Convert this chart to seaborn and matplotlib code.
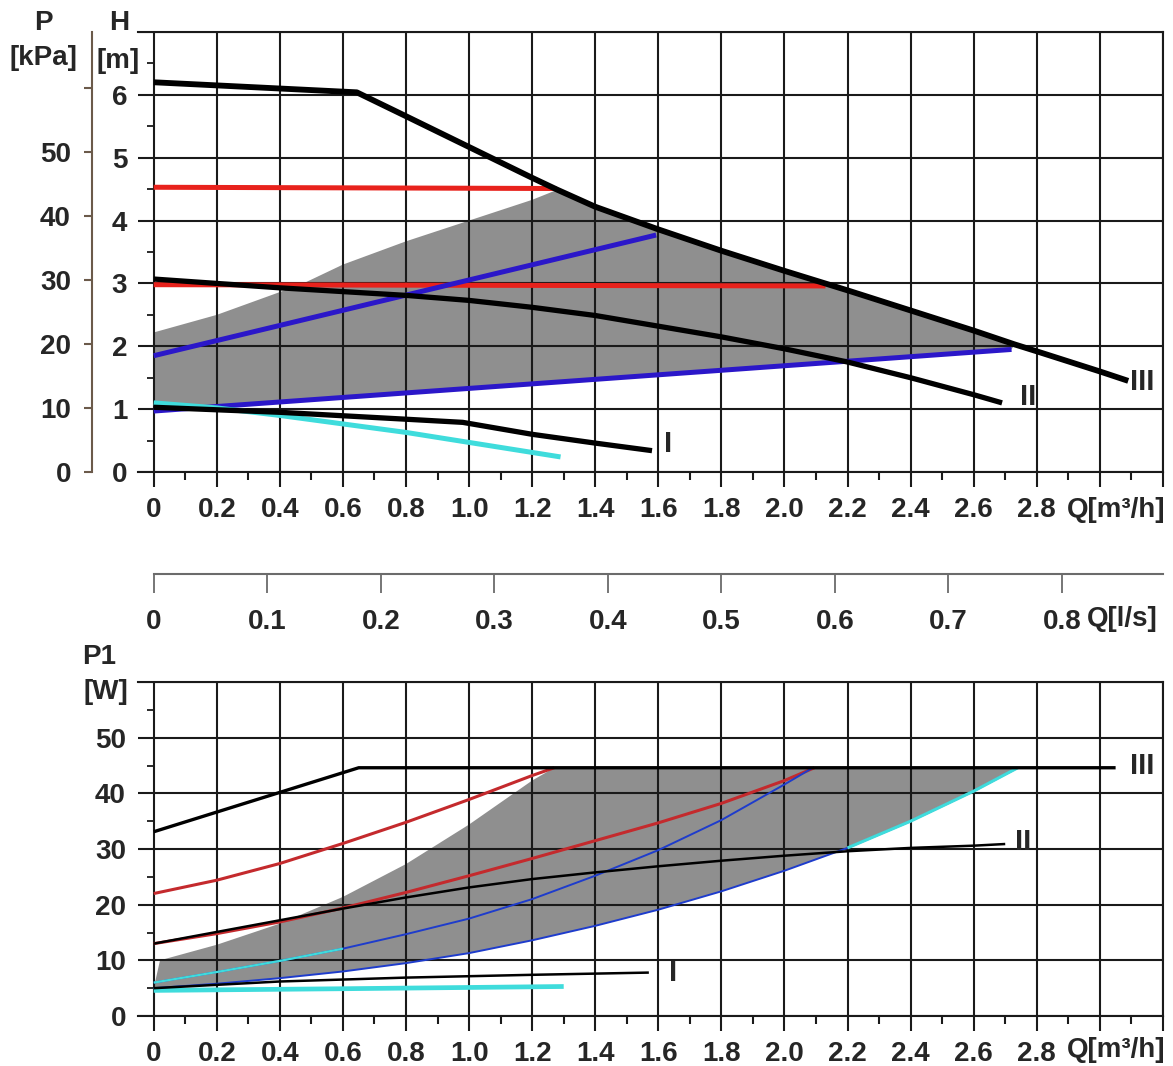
import numpy as np
import matplotlib
matplotlib.use('Agg')
import matplotlib.pyplot as plt
import seaborn as sns
from matplotlib.ticker import FixedLocator, FixedFormatter, MultipleLocator

# ---- data ----
# upper chart: head H [m] vs flow Q [m3/h]
q_iii_top = [0, 0.644, 0.8, 1.0, 1.2, 1.28, 1.4, 1.6, 1.8, 2.0, 2.2, 2.4, 2.6, 2.73, 2.8, 3.0, 3.09]
h_iii_top = [6.2, 6.04, 5.66, 5.17, 4.68, 4.49, 4.22, 3.86, 3.52, 3.20, 2.89, 2.57, 2.25, 2.03, 1.92, 1.60, 1.45]
q_ii_top = [0, 0.4, 0.8, 1.0, 1.2, 1.4, 1.6, 1.8, 2.0, 2.2, 2.4, 2.6, 2.69]
h_ii_top = [3.07, 2.93, 2.81, 2.73, 2.62, 2.49, 2.32, 2.15, 1.96, 1.75, 1.50, 1.23, 1.10]
q_i_top = [0, 0.4, 0.8, 0.98, 1.2, 1.4, 1.58]
h_i_top = [1.03, 0.95, 0.84, 0.79, 0.60, 0.46, 0.34]
q_cyan_top = [0, 0.2, 0.4, 0.8, 1.29]
h_cyan_top = [1.10, 1.02, 0.90, 0.63, 0.24]
q_red_hi_top = [0, 1.277]
h_red_hi_top = [4.53, 4.51]
q_red_lo_top = [0, 2.13]
h_red_lo_top = [2.98, 2.96]
q_blue_hi_top = [0, 1.593]
h_blue_hi_top = [1.85, 3.77]
q_blue_lo_top = [0, 2.72]
h_blue_lo_top = [0.97, 1.95]
q_zone_top = [0, 0.2, 0.47, 0.6, 0.8, 1.0, 1.2, 1.28]
h_zone_top = [2.22, 2.5, 2.99, 3.3, 3.67, 4.0, 4.33, 4.49]

# lower chart: input power P1 [W] vs flow Q [m3/h]
q_iii_bot = [0, 0.65, 3.05]
p_iii_bot = [33.1, 44.6, 44.6]
q_ii_bot = [0, 0.2, 0.4, 0.6, 0.8, 1.0, 1.2, 1.4, 1.6, 1.8, 2.0, 2.2, 2.4, 2.6, 2.7]
p_ii_bot = [13.0, 15.1, 17.2, 19.3, 21.3, 23.1, 24.6, 25.8, 26.9, 27.9, 28.8, 29.6, 30.2, 30.6, 30.9]
q_i_bot = [0, 0.4, 0.8, 1.2, 1.57]
p_i_bot = [5.0, 6.2, 6.9, 7.4, 7.8]
q_red_hi_bot = [0, 0.2, 0.4, 0.6, 0.8, 1.0, 1.2, 1.27]
p_red_hi_bot = [22.0, 24.4, 27.4, 31.0, 34.8, 38.9, 43.2, 44.6]
q_red_lo_bot = [0, 0.2, 0.4, 0.6, 0.8, 1.0, 1.2, 1.4, 1.6, 1.8, 2.0, 2.095]
p_red_lo_bot = [13.0, 14.8, 16.9, 19.4, 22.2, 25.2, 28.3, 31.5, 34.7, 38.2, 42.3, 44.6]
q_blue_hi_bot = [0, 0.2, 0.4, 0.6, 0.8, 1.0, 1.2, 1.4, 1.6, 1.8, 2.0, 2.09]
p_blue_hi_bot = [6.0, 7.9, 9.9, 12.1, 14.7, 17.5, 21.0, 25.2, 29.8, 35.2, 41.6, 44.6]
q_blue_lo_bot = [0, 0.2, 0.4, 0.6, 0.8, 1.0, 1.2, 1.4, 1.6, 1.8, 2.0, 2.2, 2.4, 2.6, 2.74]
p_blue_lo_bot = [5.0, 5.8, 6.8, 8.0, 9.5, 11.3, 13.6, 16.2, 19.1, 22.4, 26.1, 30.2, 35.0, 40.4, 44.6]
q_cyan_bot = [0, 0.6, 1.3]
p_cyan_bot = [4.6, 4.9, 5.3]
q_zone_bot = [0.02, 0.2, 0.4, 0.6, 0.8, 1.0, 1.2, 1.27]
p_zone_bot = [10.0, 12.8, 16.6, 21.4, 27.3, 34.4, 42.3, 44.6]

q_ticks = [0, 0.2, 0.4, 0.6, 0.8, 1.0, 1.2, 1.4, 1.6, 1.8, 2.0, 2.2, 2.4, 2.6, 2.8, 3.0, 3.2]
q_labels = ['0', '0.2', '0.4', '0.6', '0.8', '1.0', '1.2', '1.4', '1.6', '1.8', '2.0',
            '2.2', '2.4', '2.6', '2.8', '', '']
ls_ticks = [0, 0.1, 0.2, 0.3, 0.4, 0.5, 0.6, 0.7, 0.8]
ls_labels = ['0', '0.1', '0.2', '0.3', '0.4', '0.5', '0.6', '0.7', '0.8']
h_ticks = [0, 1, 2, 3, 4, 5, 6, 7]
h_labels = ['0', '1', '2', '3', '4', '5', '6', '']
p_ticks = [0, 10, 20, 30, 40, 50, 60]
p_labels = ['0', '10', '20', '30', '40', '50', '']
w_ticks = [0, 10, 20, 30, 40, 50, 60]
w_labels = ['0', '10', '20', '30', '40', '50', '']

sns.set_theme(style='white')
plt.rcParams['font.family'] = ['Liberation Sans', 'DejaVu Sans']
plt.rcParams['font.weight'] = 'bold'

GRID = '#1a1a1a'
GRAY = '#8f8f8f'
CYAN = '#3fdcdc'

fig = plt.figure(figsize=(11.73, 10.66), dpi=100)
ax1 = fig.add_axes([0.1176, 0.5572, 0.8738, 0.4128])
ax2 = fig.add_axes([0.1176, 0.0469, 0.8738, 0.3133])


def setup(ax, ymax, yticks, ylabels, yminor, ypad):
    ax.set_xlim(-0.05, 3.2)
    ax.set_ylim(0, ymax)
    ax.set_axisbelow('line')
    ax.xaxis.set_major_locator(FixedLocator(q_ticks))
    ax.xaxis.set_major_formatter(FixedFormatter(q_labels))
    ax.xaxis.set_minor_locator(MultipleLocator(0.1))
    ax.yaxis.set_major_locator(FixedLocator(yticks))
    ax.yaxis.set_major_formatter(FixedFormatter(ylabels))
    ax.yaxis.set_minor_locator(MultipleLocator(yminor))
    ax.grid(True, which='major', color=GRID, lw=1.5)
    ax.spines['left'].set_position(('data', 0))
    ax.spines['left'].set_visible(False)
    for s in ['top', 'right', 'bottom']:
        ax.spines[s].set_color(GRID)
        ax.spines[s].set_linewidth(1.5)
    ax.tick_params(axis='x', which='major', bottom=True, direction='out', length=11,
                   width=1.5, color=GRID, labelsize=20, pad=7)
    ax.tick_params(axis='x', which='minor', bottom=True, direction='out', length=6,
                   width=1.5, color=GRID)
    ax.tick_params(axis='y', which='major', left=True, length=0, labelsize=20, pad=ypad)
    ax.tick_params(axis='y', which='minor', left=True, direction='out', length=5,
                   width=1.3, color=GRID)
    ax.set_xlabel('')
    ax.set_ylabel('')


def curve(ax, q, v, color, lw, z=3):
    sns.lineplot(x=q, y=v, ax=ax, color=color, linewidth=lw, estimator=None,
                 sort=False, zorder=z, solid_capstyle='butt', legend=False)


# ---- upper chart ----
setup(ax1, 7, h_ticks, h_labels, 0.5, 19)
zone_x = list(q_zone_top)
zone_y = list(h_zone_top)
for q, h in zip(q_iii_top, h_iii_top):
    if q_zone_top[-1] < q <= 2.73:
        zone_x.append(q)
        zone_y.append(h)
zone_x += q_blue_lo_top[::-1]
zone_y += h_blue_lo_top[::-1]
ax1.fill(zone_x, zone_y, color=GRAY, lw=0, zorder=1)

curve(ax1, q_red_hi_top, h_red_hi_top, '#e8221c', 3.6)
curve(ax1, q_red_lo_top, h_red_lo_top, '#e8221c', 3.6)
curve(ax1, q_blue_hi_top, h_blue_hi_top, '#2b17c9', 3.6)
curve(ax1, q_blue_lo_top, h_blue_lo_top, '#2b17c9', 3.6)
curve(ax1, q_cyan_top, h_cyan_top, CYAN, 3.6)
curve(ax1, q_iii_top, h_iii_top, 'black', 4.2, 4)
curve(ax1, q_ii_top, h_ii_top, 'black', 3.8, 4)
curve(ax1, q_i_top, h_i_top, 'black', 3.8, 4)

ax1.text(1.631, 0.44, 'I', fontsize=21, ha='center', va='center')
ax1.text(2.774, 1.19, 'II', fontsize=21, ha='center', va='center')
ax1.text(3.133, 1.44, 'III', fontsize=21, ha='center', va='center')

# pressure axis in kPa
sec_p = ax1.secondary_yaxis(-0.045, functions=(lambda h: h * 9.81, lambda p: p / 9.81))
sec_p.yaxis.set_major_locator(FixedLocator(p_ticks))
sec_p.yaxis.set_major_formatter(FixedFormatter(p_labels))
sec_p.spines['left'].set_color('#6b5a4a')
sec_p.spines['left'].set_linewidth(1.5)
sec_p.tick_params(axis='y', length=6, width=1.5, color='#6b5a4a', labelsize=20, pad=9)

# flow axis in l/s
sec_q = ax1.secondary_xaxis(-0.232, functions=(lambda q: q / 3.6, lambda l: l * 3.6))
sec_q.xaxis.set_major_locator(FixedLocator(ls_ticks))
sec_q.xaxis.set_major_formatter(FixedFormatter(ls_labels))
sec_q.spines['bottom'].set_bounds(0, 3.2 / 3.6)
sec_q.spines['bottom'].set_color('#6b6b6b')
sec_q.spines['bottom'].set_linewidth(1.5)
sec_q.tick_params(axis='x', length=14, width=1.3, color='#6b6b6b', labelsize=20, pad=11)

# ---- lower chart ----
setup(ax2, 60, w_ticks, w_labels, 5, 20)
zone_x = list(q_zone_bot) + q_blue_lo_bot[::-1]
zone_y = list(p_zone_bot) + p_blue_lo_bot[::-1]
ax2.fill(zone_x, zone_y, color=GRAY, lw=0, zorder=1)

curve(ax2, q_cyan_bot, p_cyan_bot, CYAN, 3.4)
curve(ax2, q_red_hi_bot, p_red_hi_bot, '#c42a2d', 2.2)
curve(ax2, q_red_lo_bot, p_red_lo_bot, '#c42a2d', 2.2)
curve(ax2, q_blue_hi_bot, p_blue_hi_bot, '#1e3ccc', 1.4)
curve(ax2, q_blue_lo_bot, p_blue_lo_bot, '#1e3ccc', 1.4)
curve(ax2, q_blue_hi_bot[:4], p_blue_hi_bot[:4], CYAN, 1.6)
curve(ax2, q_blue_lo_bot[-4:], p_blue_lo_bot[-4:], CYAN, 2.2)
curve(ax2, q_iii_bot, p_iii_bot, 'black', 2.4, 4)
curve(ax2, q_ii_bot, p_ii_bot, 'black', 1.8, 4)
curve(ax2, q_i_bot, p_i_bot, 'black', 1.8, 4)

ax2.text(1.646, 7.7, 'I', fontsize=21, ha='center', va='center')
ax2.text(2.757, 31.2, 'II', fontsize=21, ha='center', va='center')
ax2.text(3.133, 45.0, 'III', fontsize=21, ha='center', va='center')

# ---- axis captions ----
W, H = 1173, 1066
def ftext(x, y, s, **kw):
    fig.text(x / W, 1 - y / H, s, fontsize=20, ha='center', va='center', **kw)

ftext(43, 23, 'P')
ftext(43, 58, '[kPa]')
ftext(119, 23, 'H')
ftext(118, 61, '[m]')
ftext(99, 657, 'P1')
ftext(106, 692, '[W]')
fig.text(1165 / W, 1 - 510 / H, 'Q[m³/h]', fontsize=20, ha='right', va='center')
fig.text(1165 / W, 1 - 1050 / H, 'Q[m³/h]', fontsize=20, ha='right', va='center')
fig.text(1122 / W, 1 - 619 / H, 'Q[l/s]', fontsize=20, ha='center', va='center')

fig.savefig('out.png', dpi=100)
